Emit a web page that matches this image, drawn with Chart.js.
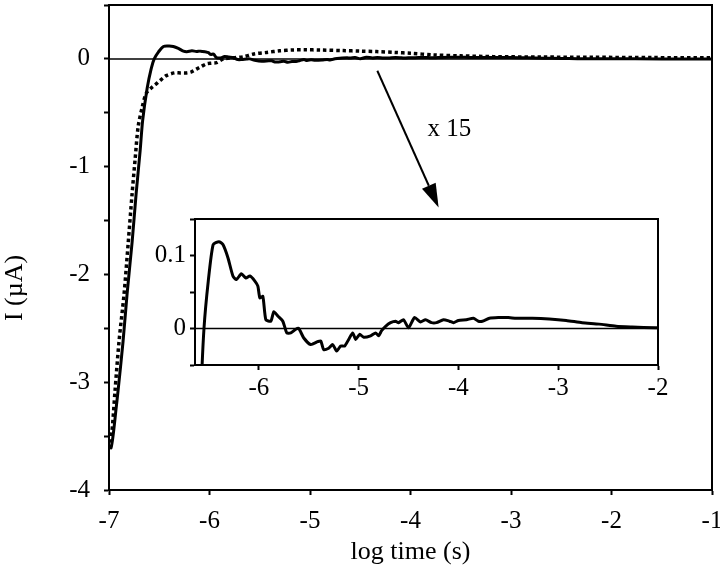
<!DOCTYPE html>
<html>
<head>
<meta charset="utf-8">
<script src="https://cdn.jsdelivr.net/npm/chart.js@4.4.1/dist/chart.umd.min.js"></script>
<style>
  html, body { margin: 0; padding: 0; background: #fff; }
  #wrap { position: relative; width: 720px; height: 573px; }
  #mainChart { position: absolute; left: 0; top: 0; }
  #insetChart { position: absolute; left: 140px; top: 209px; }
</style>
</head>
<body>
<div id="wrap">
  <canvas id="mainChart" width="720" height="573"></canvas>
  <canvas id="insetChart" width="530" height="190"></canvas>
</div>
<script>
// solid trace (also used for the x15 inset)
const solidX = [-6.99, -6.98, -6.96, -6.93, -6.91, -6.86, -6.82, -6.77, -6.73, -6.69, -6.665, -6.62, -6.58, -6.55,
  -6.507, -6.458, -6.40, -6.36, -6.31, -6.26, -6.225, -6.175, -6.13, -6.09, -6.04, -6.01, -5.99, -5.96, -5.93,
  -5.88, -5.85, -5.81, -5.76, -5.72, -5.68, -5.63, -5.60, -5.55, -5.48, -5.41, -5.38, -5.35, -5.30, -5.26, -5.22,
  -5.18, -5.14, -5.10, -5.06, -5.03, -4.99, -4.95, -4.88, -4.83, -4.80, -4.77, -4.73, -4.68, -4.63, -4.60, -4.55,
  -4.50, -4.44, -4.38, -4.33, -4.27, -4.22, -4.15, -4.09, -4.05, -4.00, -3.92, -3.85, -3.80, -3.76, -3.69, -3.60,
  -3.50, -3.42, -3.26, -3.09, -2.92, -2.76, -2.59, -2.42, -2.26, -2.03, -1.5, -1.0];
const solidY = [-3.58, -3.61, -3.50, -3.25, -3.08, -2.62, -2.18, -1.70, -1.25, -0.85, -0.57, -0.27, -0.09, 0.0,
  0.065, 0.115, 0.119, 0.115, 0.097, 0.072, 0.067, 0.075, 0.069, 0.072, 0.065, 0.058, 0.042, 0.044, 0.012,
  0.010, 0.023, 0.017, 0.010, -0.006, -0.006, -0.001, 0.0, -0.013, -0.022, -0.018, -0.017, -0.029, -0.027, -0.022, -0.031,
  -0.024, -0.024, -0.015, -0.006, -0.015, -0.008, -0.012, -0.010, -0.006, -0.010, -0.003, 0.003, 0.008, 0.010, 0.008, 0.012,
  0.001, 0.015, 0.009, 0.012, 0.008, 0.008, 0.012, 0.010, 0.008, 0.011, 0.012, 0.014, 0.010, 0.010, 0.014, 0.015,
  0.015, 0.014, 0.014, 0.013, 0.011, 0.008, 0.006, 0.003, 0.002, 0.001, 0.0, 0.0];

// dotted trace
const dotX = [-6.99, -6.97, -6.94, -6.90, -6.85, -6.81, -6.77, -6.74, -6.71, -6.67, -6.63, -6.58, -6.54, -6.49,
  -6.43, -6.35, -6.29, -6.23, -6.18, -6.13, -6.08, -6.03, -5.98, -5.93, -5.86, -5.76, -5.66, -5.56, -5.43, -5.30,
  -5.17, -5.05, -4.90, -4.67, -4.50, -4.34, -4.15, -4.00, -3.77, -3.50, -3.18, -2.70, -2.18, -1.6, -1.0];
const dotY = [-3.56, -3.45, -3.08, -2.62, -2.18, -1.72, -1.25, -0.93, -0.63, -0.45, -0.32, -0.27, -0.24, -0.20,
  -0.155, -0.13, -0.13, -0.13, -0.12, -0.095, -0.07, -0.046, -0.04, -0.035, 0.0, 0.01, 0.02, 0.046, 0.06, 0.075,
  0.083, 0.085, 0.082, 0.077, 0.072, 0.068, 0.06, 0.052, 0.037, 0.028, 0.021, 0.017, 0.015, 0.012, 0.01];

const mainXTicks = [-7, -6, -5, -4, -3, -2, -1];
const mainYTicks = [-4, -3, -2, -1, 0];
const insetXTicks = [-6, -5, -4, -3, -2];
const insetYTicks = [0, 0.1];

const FAMILY = "'Liberation Serif', 'Times New Roman', serif";
const FONT = { family: FAMILY, size: 25 };
const TITLE_FONT = { family: FAMILY, size: 26 };
const toPoints = (xs, ys) => xs.map((x, i) => ({ x, y: ys[i] }));
const hasTick = (list, v) => list.some(t => Math.abs(t - v) < 1e-9);

Chart.defaults.font.family = FAMILY;
Chart.defaults.color = '#000';

// box around plot area + zero line
const framePlugin = {
  id: 'frame',
  beforeDatasetsDraw(chart) {
    const { ctx, chartArea: a, scales } = chart;
    const y0 = scales.y.getPixelForValue(0);
    ctx.save();
    ctx.strokeStyle = '#000';
    ctx.lineWidth = 1.5;
    ctx.beginPath();
    ctx.moveTo(a.left, y0);
    ctx.lineTo(a.right, y0);
    ctx.stroke();
    ctx.restore();
  },
  afterDraw(chart) {
    const { ctx, chartArea: a } = chart;
    ctx.save();
    ctx.strokeStyle = '#000';
    ctx.lineWidth = 2;
    ctx.strokeRect(a.left, a.top, a.right - a.left, a.bottom - a.top);
    ctx.restore();
  }
};

// arrow, "x 15" note and the y title
const notePlugin = {
  id: 'note',
  afterDraw(chart) {
    const { ctx, scales } = chart;
    const x1 = scales.x.getPixelForValue(-4.33), y1 = scales.y.getPixelForValue(-0.11);
    const x2 = scales.x.getPixelForValue(-3.72), y2 = scales.y.getPixelForValue(-1.38);
    const ang = Math.atan2(y2 - y1, x2 - x1);
    const headLen = 24, headW = 7.5;
    const bx = x2 - headLen * Math.cos(ang), by = y2 - headLen * Math.sin(ang);
    ctx.save();
    ctx.strokeStyle = '#000';
    ctx.fillStyle = '#000';
    ctx.lineWidth = 2;
    ctx.beginPath();
    ctx.moveTo(x1, y1);
    ctx.lineTo(bx, by);
    ctx.stroke();
    ctx.beginPath();
    ctx.moveTo(x2, y2);
    ctx.lineTo(bx + headW * Math.sin(ang), by - headW * Math.cos(ang));
    ctx.lineTo(bx - headW * Math.sin(ang), by + headW * Math.cos(ang));
    ctx.closePath();
    ctx.fill();

    ctx.font = `${FONT.size}px ${FAMILY}`;
    ctx.textAlign = 'left';
    ctx.textBaseline = 'middle';
    ctx.fillText('x 15', scales.x.getPixelForValue(-3.83), scales.y.getPixelForValue(-0.65));

    ctx.font = `${TITLE_FONT.size}px ${FAMILY}`;
    ctx.translate(15, 288);
    ctx.rotate(-Math.PI / 2);
    ctx.textAlign = 'center';
    ctx.fillText('I (\u00b5A)', 0, 0);
    ctx.restore();
  }
};

function fixWidth(w) {
  return s => { s.width = w; s.paddingTop = 0; s.paddingBottom = 0; };
}
function fixHeight(h) {
  return s => { s.height = h; s.paddingLeft = 0; s.paddingRight = 0; };
}

new Chart(document.getElementById('mainChart'), {
  type: 'scatter',
  data: {
    datasets: [
      {
        data: toPoints(dotX, dotY),
        showLine: true,
        borderColor: '#000',
        borderWidth: 3.5,
        borderDash: [3.5, 3],
        pointRadius: 0,
        tension: 0.3
      },
      {
        data: toPoints(solidX, solidY),
        showLine: true,
        borderColor: '#000',
        borderWidth: 3,
        pointRadius: 0,
        tension: 0.3
      }
    ]
  },
  options: {
    responsive: false,
    animation: false,
    layout: { padding: { left: 0, right: 8, top: 5, bottom: 0 } },
    plugins: { legend: { display: false }, tooltip: { enabled: false } },
    scales: {
      x: {
        type: 'linear',
        min: -7,
        max: -1,
        afterFit: fixHeight(83),
        ticks: {
          stepSize: 1,
          padding: 11,
          font: FONT,
          maxRotation: 0,
          callback: v => hasTick(mainXTicks, v) ? String(v) : ''
        },
        grid: { drawOnChartArea: false, tickLength: 5, tickColor: '#000', tickWidth: 2 },
        border: { color: '#000', width: 2 },
        title: { display: true, text: 'log time (s)', font: TITLE_FONT, padding: { top: 0, bottom: 5 } }
      },
      y: {
        type: 'linear',
        min: -4,
        max: 0.5,
        afterFit: fixWidth(109),
        ticks: {
          stepSize: 0.5,
          padding: 14,
          font: FONT,
          callback: v => hasTick(mainYTicks, v) ? String(v) : ''
        },
        grid: { drawOnChartArea: false, tickLength: 5, tickColor: '#000', tickWidth: 2 },
        border: { color: '#000', width: 2 }
      }
    }
  },
  plugins: [framePlugin, notePlugin]
});

new Chart(document.getElementById('insetChart'), {
  type: 'scatter',
  data: {
    datasets: [
      {
        data: toPoints(solidX, solidY),
        showLine: true,
        borderColor: '#000',
        borderWidth: 3,
        pointRadius: 0,
        tension: 0.2
      }
    ]
  },
  options: {
    responsive: false,
    animation: false,
    layout: { padding: { left: 0, right: 12, top: 10, bottom: 0 } },
    plugins: { legend: { display: false }, tooltip: { enabled: false } },
    scales: {
      x: {
        type: 'linear',
        min: -6.64,
        max: -2,
        afterFit: fixHeight(34),
        ticks: {
          stepSize: 1,
          includeBounds: false,
          padding: 3,
          font: FONT,
          maxRotation: 0,
          callback: v => hasTick(insetXTicks, v) ? String(v) : ''
        },
        grid: { drawOnChartArea: false, tickLength: 5, tickColor: '#000', tickWidth: 2 },
        border: { color: '#000', width: 2 }
      },
      y: {
        type: 'linear',
        min: -0.05,
        max: 0.15,
        afterFit: fixWidth(55),
        ticks: {
          stepSize: 0.05,
          includeBounds: false,
          padding: 4,
          font: FONT,
          callback: v => hasTick(insetYTicks, v) ? (Math.abs(v) < 1e-9 ? '0' : '0.1') : ''
        },
        grid: { drawOnChartArea: false, tickLength: 5, tickColor: '#000', tickWidth: 2 },
        border: { color: '#000', width: 2 }
      }
    }
  },
  plugins: [framePlugin]
});
</script>
</body>
</html>
